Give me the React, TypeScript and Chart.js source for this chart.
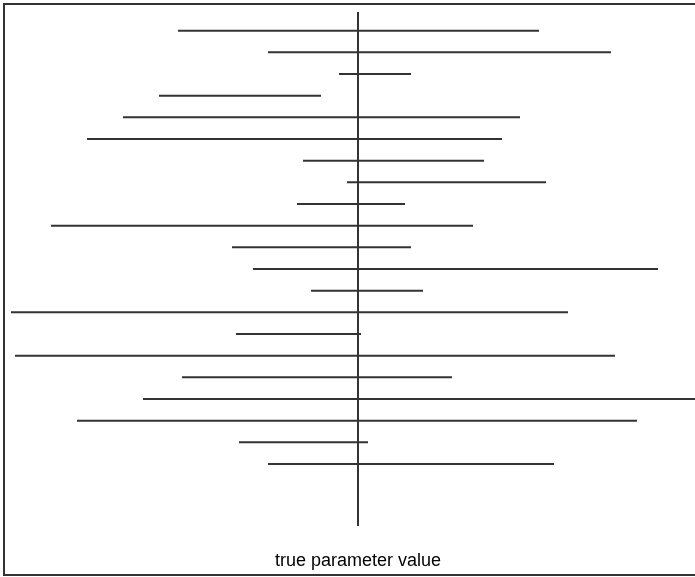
import React, { useEffect, useRef } from "react";
import { Chart, registerables } from "chart.js";

Chart.register(...registerables);

// True value of the parameter being estimated
const TRUE_VALUE = 0;

// Confidence intervals, one per simulated sample (top to bottom)
const sampleIndex = [
  1, 2, 3, 4, 5, 6, 7, 8, 9, 10, 11, 12, 13, 14, 15, 16, 17, 18, 19, 20, 21,
];
const lowerBounds = [
  -1.8, -0.9, -0.19, -1.99, -2.35, -2.71, -0.55, -0.11, -0.61, -3.07, -1.26,
  -1.05, -0.47, -3.47, -1.22, -3.43, -1.76, -2.15, -2.81, -1.19, -0.9,
];
const upperBounds = [
  1.81, 2.53, 0.53, -0.37, 1.62, 1.44, 1.26, 1.88, 0.47, 1.15, 0.53, 3.0,
  0.65, 2.1, 0.03, 2.57, 0.94, 3.45, 2.79, 0.1, 1.96,
];

// Axis ranges
const X_MIN = -3.5;
const X_MAX = 3.5;
const Y_MIN = 0.14;
const Y_MAX = 23.86;

const AXIS_LABEL = "true parameter value";

const LINE_COLOR = "#333333";

export default function App() {
  const canvasRef = useRef<HTMLCanvasElement | null>(null);

  useEffect(() => {
    const canvas = canvasRef.current;
    if (!canvas) return;

    const intervalSets = sampleIndex.map((idx, i) => ({
      label: `sample ${idx}`,
      data: [
        { x: lowerBounds[i], y: idx },
        { x: upperBounds[i], y: idx },
      ],
      showLine: true,
      borderColor: LINE_COLOR,
      borderWidth: 2,
      pointRadius: 0,
      pointHoverRadius: 0,
    }));

    const trueLine = {
      label: "true value",
      data: [
        { x: TRUE_VALUE, y: Y_MIN },
        { x: TRUE_VALUE, y: Y_MAX },
      ],
      showLine: true,
      borderColor: LINE_COLOR,
      borderWidth: 2,
      pointRadius: 0,
      pointHoverRadius: 0,
    };

    const chart = new Chart(canvas, {
      type: "scatter",
      data: { datasets: [trueLine, ...intervalSets] },
      options: {
        animation: false,
        responsive: true,
        maintainAspectRatio: false,
        layout: { padding: { left: 8, right: 12, top: 12, bottom: 0 } },
        plugins: {
          legend: { display: false },
          tooltip: { enabled: false },
        },
        scales: {
          x: {
            type: "linear",
            min: X_MIN,
            max: X_MAX,
            ticks: { display: false },
            grid: { display: false, drawTicks: false },
            border: { display: false },
            title: {
              display: true,
              text: AXIS_LABEL,
              color: "#000000",
              font: { family: "'Liberation Sans', Arial, sans-serif", size: 18 },
              padding: { top: 24.4, bottom: 5 },
            },
          },
          y: {
            type: "linear",
            display: false,
            reverse: true,
            min: Y_MIN,
            max: Y_MAX,
          },
        },
      },
    });

    return () => chart.destroy();
  }, []);

  return (
    <div
      style={{
        position: "fixed",
        left: 0,
        top: 0,
        width: 695,
        height: 577,
        overflow: "hidden",
        background: "#ffffff",
      }}
    >
      <div
        style={{
          position: "absolute",
          left: 3,
          top: 3,
          width: 800,
          height: 573,
          boxSizing: "border-box",
          borderTop: "2px solid #333333",
          borderLeft: "2px solid #333333",
          borderBottom: "2px solid #333333",
        }}
      />
      <div style={{ position: "absolute", left: 0, top: 0, width: 720, height: 577 }}>
        <canvas ref={canvasRef} />
      </div>
    </div>
  );
}
